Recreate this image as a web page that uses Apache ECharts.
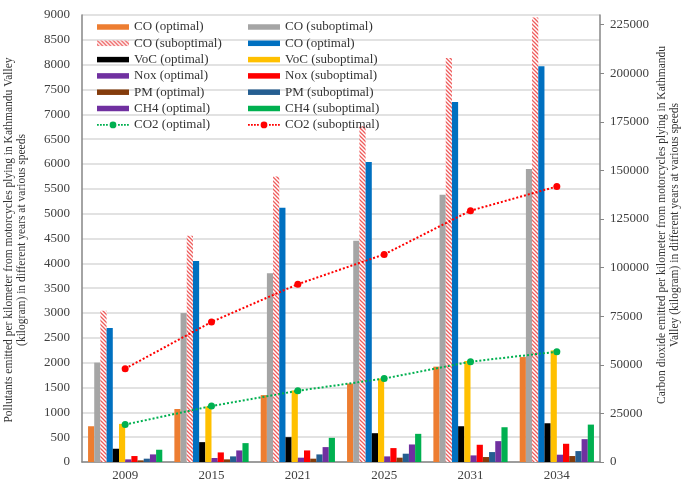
<!DOCTYPE html>
<html>
<head>
<meta charset="utf-8">
<script src="https://cdn.jsdelivr.net/npm/echarts@6/dist/echarts.min.js"></script>
<style>html,body{margin:0;padding:0;background:#fff;}#c{width:682px;height:482px;}</style>
</head>
<body>
<div id="c"></div>
<script>
const years = ['2009', '2015', '2021', '2025', '2031', '2034'];
const coOptimalA = [720, 1067, 1347, 1580, 1920, 2113];
const coSuboptimalA = [2000, 3000, 3800, 4453, 5380, 5900];
const coSuboptimalB = [3047, 4553, 5747, 6760, 8133, 8950];
const coOptimalB = [2700, 4047, 5120, 6040, 7247, 7967];
const vocOptimal = [267, 400, 500, 580, 720, 780];
const vocSuboptimal = [767, 1120, 1440, 1680, 2033, 2247];
const noxOptimal = [53, 80, 87, 113, 133, 147];
const noxSuboptimal = [120, 193, 233, 280, 347, 367];
const pmOptimal = [33, 53, 67, 87, 100, 120];
const pmSuboptimal = [67, 113, 153, 167, 200, 220];
const ch4Optimal = [153, 233, 300, 353, 420, 460];
const ch4Suboptimal = [247, 380, 487, 567, 700, 753];
const co2Optimal = [19270, 28780, 36640, 42930, 51620, 56730];
const co2Suboptimal = [48040, 72070, 91490, 106820, 129310, 141760];

// hatch pattern
const hc = document.createElement('canvas');
hc.width = 4; hc.height = 4;
const g = hc.getContext('2d');
g.fillStyle = '#ffffff'; g.fillRect(0, 0, 4, 4);
g.strokeStyle = '#ee5b5b'; g.lineWidth = 1.3;
g.beginPath();
g.moveTo(0, 0); g.lineTo(4, 4);
g.moveTo(-1, 3); g.lineTo(1, 5);
g.moveTo(3, -1); g.lineTo(5, 1);
g.stroke();
const hatch = { image: hc, repeat: 'repeat' };

const barIcon = 'path://M0,0M32,14M0,4.25h32v5.5h-32z';
function dots() {
  let p = 'path://M0,0M32,14';
  for (let x = 0; x < 32; x += 3) {
    if (x > 11 && x < 20) continue;
    p += 'M' + x + ',6.2h1.8v1.8h-1.8z';
  }
  p += 'M12.6,7.1a3.4,3.4 0 1,0 6.8,0a3.4,3.4 0 1,0 -6.8,0z';
  return p;
}
const lineIcon = dots();

const bars = [
  ['CO (optimal)', coOptimalA, '#ed7d31'],
  ['CO (suboptimal)', coSuboptimalA, '#a5a5a5'],
  ['CO (suboptimal)#2', coSuboptimalB, hatch],
  ['CO (optimal)#2', coOptimalB, '#0070c0'],
  ['VoC (optimal)', vocOptimal, '#000000'],
  ['VoC (suboptimal)', vocSuboptimal, '#ffc000'],
  ['Nox (optimal)', noxOptimal, '#7030a0'],
  ['Nox (suboptimal)', noxSuboptimal, '#ff0000'],
  ['PM (optimal)', pmOptimal, '#843c0c'],
  ['PM (suboptimal)', pmSuboptimal, '#255e91'],
  ['CH4 (optimal)', ch4Optimal, '#7030a0'],
  ['CH4 (suboptimal)', ch4Suboptimal, '#00b050']
];

const series = bars.map(b => ({
  name: b[0], type: 'bar', data: b[1], yAxisIndex: 0,
  barGap: '0%', barCategoryGap: '14%',
  itemStyle: { color: b[2] }
}));
series.push({
  name: 'CO2 (optimal)', type: 'line', yAxisIndex: 1, data: co2Optimal,
  symbol: 'circle', symbolSize: 7, z: 5,
  itemStyle: { color: '#00b050' },
  lineStyle: { color: '#00b050', type: 'dotted', width: 2 }
});
series.push({
  name: 'CO2 (suboptimal)', type: 'line', yAxisIndex: 1, data: co2Suboptimal,
  symbol: 'circle', symbolSize: 7, z: 5,
  itemStyle: { color: '#ff0000' },
  lineStyle: { color: '#ff0000', type: 'dotted', width: 2 }
});

const font = 'Liberation Serif';
const legendBase = {
  orient: 'vertical', top: 15, itemWidth: 32, itemHeight: 14, itemGap: 2.3,
  itemStyle: { borderWidth: 0 },
  selectedMode: false,
  textStyle: { fontFamily: font, fontSize: 13, color: '#333', lineHeight: 14, padding: [0, 0, 0, 0] },
  formatter: n => n.replace('#2', '')
};
const mk = (names) => names.map(n => ({ name: n, icon: n.indexOf('CO2') === 0 ? lineIcon : barIcon }));

const option = {
  animation: false,
  backgroundColor: '#fff',
  grid: { left: 82, right: 82, top: 15, bottom: 17, containLabel: false },
  legend: [
    Object.assign({}, legendBase, { left: 92, data: mk(['CO (optimal)', 'CO (suboptimal)#2', 'VoC (optimal)', 'Nox (optimal)', 'PM (optimal)', 'CH4 (optimal)', 'CO2 (optimal)']) }),
    Object.assign({}, legendBase, { left: 243, data: mk(['CO (suboptimal)', 'CO (optimal)#2', 'VoC (suboptimal)', 'Nox (suboptimal)', 'PM (suboptimal)', 'CH4 (suboptimal)', 'CO2 (suboptimal)']) })
  ],
  xAxis: {
    type: 'category', data: years,
    axisLine: { lineStyle: { color: '#868686', width: 1.5 } },
    axisTick: { show: false },
    axisLabel: { fontFamily: font, fontSize: 13, color: '#404040', margin: 7 }
  },
  yAxis: [
    {
      type: 'value', min: 0, max: 9000, interval: 500,
      axisLine: { show: true, lineStyle: { color: '#868686', width: 1.5 } },
      axisTick: { show: false },
      splitLine: { lineStyle: { color: '#d9d9d9', width: 1.5 } },
      axisLabel: { fontFamily: font, fontSize: 13, color: '#404040', margin: 12, formatter: v => String(v) }
    },
    {
      type: 'value', min: 0, max: 230000, interval: 25000,
      axisLine: { show: true, lineStyle: { color: '#868686', width: 1.5 } },
      axisTick: { show: true, length: 4, lineStyle: { color: '#868686' } },
      splitLine: { show: false },
      axisLabel: { fontFamily: font, fontSize: 13, color: '#404040', margin: 10, showMaxLabel: false,
        formatter: v => (v > 225000 ? '' : String(v)) }
    }
  ],
  graphic: [
    { type: 'text', x: 15, y: 240, rotation: Math.PI / 2,
      style: { text: 'Pollutants emitted per kilometer from motorcycles plying in Kathmandu Valley\n(kilogram) in different years at various speeds',
        align: 'center', verticalAlign: 'middle', fontFamily: font, fontSize: 11.5, lineHeight: 13, fill: '#333' } },
    { type: 'text', x: 668, y: 225, rotation: Math.PI / 2,
      style: { text: 'Carbon dioxide emitted per kilometer from motorcycles plying in Kathmandu\nValley (kilogram) in different years at various speeds',
        align: 'center', verticalAlign: 'middle', fontFamily: font, fontSize: 11.5, lineHeight: 13, fill: '#333' } }
  ],
  series: series
};
const chart = echarts.init(document.getElementById('c'), null, { renderer: 'canvas' });
chart.setOption(option);
</script>
</body>
</html>
